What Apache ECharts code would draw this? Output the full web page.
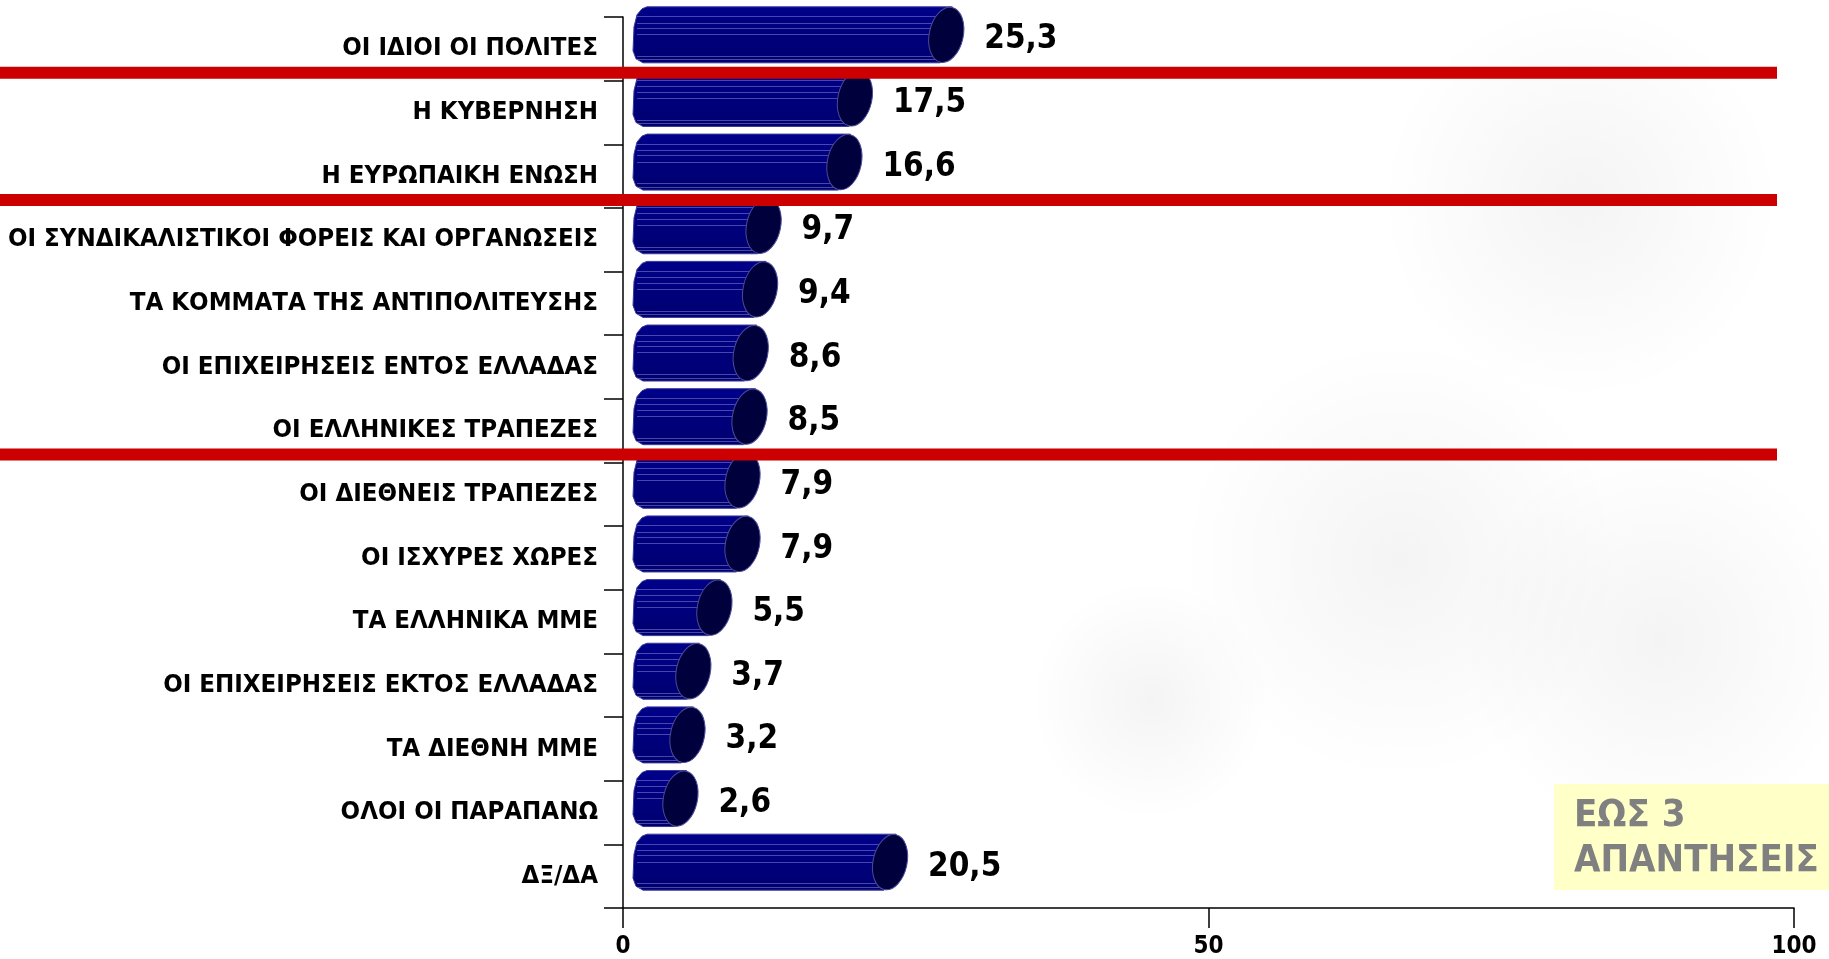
<!DOCTYPE html>
<html>
<head>
<meta charset="utf-8">
<script src="https://cdn.jsdelivr.net/npm/echarts@6/dist/echarts.min.js"></script>
<style>
html,body{margin:0;padding:0;background:#fff}
#main{width:1829px;height:959px}
</style>
</head>
<body>
<div id="main"></div>
<script>
// data
var categories = [
	'ΟΙ ΙΔΙΟΙ ΟΙ ΠΟΛΙΤΕΣ',
	'Η ΚΥΒΕΡΝΗΣΗ',
	'Η ΕΥΡΩΠΑΙΚΗ ΕΝΩΣΗ',
	'ΟΙ ΣΥΝΔΙΚΑΛΙΣΤΙΚΟΙ ΦΟΡΕΙΣ ΚΑΙ ΟΡΓΑΝΩΣΕΙΣ',
	'ΤΑ ΚΟΜΜΑΤΑ ΤΗΣ ΑΝΤΙΠΟΛΙΤΕΥΣΗΣ',
	'ΟΙ ΕΠΙΧΕΙΡΗΣΕΙΣ ΕΝΤΟΣ ΕΛΛΑΔΑΣ',
	'ΟΙ ΕΛΛΗΝΙΚΕΣ ΤΡΑΠΕΖΕΣ',
	'ΟΙ ΔΙΕΘΝΕΙΣ ΤΡΑΠΕΖΕΣ',
	'ΟΙ ΙΣΧΥΡΕΣ ΧΩΡΕΣ',
	'ΤΑ ΕΛΛΗΝΙΚΑ ΜΜΕ',
	'ΟΙ ΕΠΙΧΕΙΡΗΣΕΙΣ ΕΚΤΟΣ ΕΛΛΑΔΑΣ',
	'ΤΑ ΔΙΕΘΝΗ ΜΜΕ',
	'ΟΛΟΙ ΟΙ ΠΑΡΑΠΑΝΩ',
	'ΔΞ/ΔΑ'
];
var values = [25.3, 17.5, 16.6, 9.7, 9.4, 8.6, 8.5, 7.9, 7.9, 5.5, 3.7, 3.2, 2.6, 20.5];
// red separator lines go after these category indexes
var groupEnds = [0, 2, 6];
var noteLines = ['ΕΩΣ 3', 'ΑΠΑΝΤΗΣΕΙΣ'];

var FONT = '"DejaVu Sans Condensed", "DejaVu Sans", sans-serif';

var myChart = echarts.init(document.getElementById('main'));

// horizontal cylinder, excel style
function renderCylinder(params, api) {
	var idx = api.value(0);
	var v = api.value(1);
	var base = api.coord([0, idx]);
	var end = api.coord([v, idx]);
	var band = api.size([0, 1])[1];
	var ry = band * 0.44;
	var yc = end[1] - 14;
	var top = yc - ry, bot = yc + ry;
	var x0 = base[0] + 10;
	var cx = end[0] + 27;
	var rx = 17;
	var children = [];

	children.push({
		type: 'polygon',
		shape: {points: [
			[x0 + 14, top], [cx + 6, top], [cx - 6, bot], [x0 + 10, bot],
			[x0 + 3, bot - 4], [x0, bot - 12], [x0 + 1, top + 20],
			[x0 + 4, top + 8], [x0 + 9, top + 2]
		]},
		style: {
			fill: new echarts.graphic.LinearGradient(0, 0, 0, 1, [
				{offset: 0, color: '#00008a'},
				{offset: 1, color: '#000070'}
			]),
			stroke: '#3a3a9a',
			lineWidth: 1
		}
	});

	var stripes = [0.17, 0.28, 0.38, 0.49, 0.88, 0.94];
	for (var i = 0; i < stripes.length; i++) {
		var sy = Math.round(top + (bot - top) * stripes[i]) + 0.5;
		children.push({
			type: 'line',
			shape: {x1: x0 + 4, y1: sy, x2: cx, y2: sy},
			style: {stroke: 'rgba(130,130,210,0.55)', lineWidth: 1}
		});
	}

	children.push({
		type: 'ellipse',
		shape: {cx: cx, cy: yc, rx: rx, ry: ry},
		originX: cx,
		originY: yc,
		rotation: -0.21,
		style: {fill: '#00003c', stroke: '#4a4a98', lineWidth: 1}
	});

	children.push({
		type: 'text',
		style: {
			text: v.toFixed(1).replace('.', ','),
			x: end[0] + 65,
			y: yc + 5,
			verticalAlign: 'middle',
			fill: '#000',
			font: 'bold 33px ' + FONT
		}
	});

	return {type: 'group', children: children};
}

// red group separators
function renderSeparator(params, api) {
	var idx = api.value(1);
	var p = api.coord([0, idx]);
	var right = api.coord([100, idx])[0] - 17;
	var band = api.size([0, 1])[1];
	var yb = p[1] + band / 2;
	return {
		type: 'rect',
		shape: {x: 0, y: yb - 14, width: right, height: 12},
		style: {fill: '#cc0000'}
	};
}

// faint background figure
var blobs = [
	[1580, 200, 200, 330],
	[1660, 640, 200, 200],
	[1150, 700, 120, 300],
	[1400, 560, 220, 260]
];

option = {
	backgroundColor: '#fff',
	animation: false,
	grid: {left: 623, right: 35, top: 17, bottom: 49},
	xAxis: {
		type: 'value',
		min: 0,
		max: 100,
		interval: 50,
		axisLine: {show: true, lineStyle: {color: '#000', width: 1.5}},
		axisTick: {show: true, length: 20, lineStyle: {color: '#000', width: 1.5}},
		splitLine: {show: false},
		axisLabel: {color: '#000', fontWeight: 'bold', fontSize: 24, fontFamily: FONT, margin: 27}
	},
	yAxis: {
		type: 'category',
		inverse: true,
		data: categories,
		axisLine: {show: true, lineStyle: {color: '#000', width: 1.5}},
		axisTick: {show: true, length: 19, lineStyle: {color: '#000', width: 1.5}},
		axisLabel: {color: '#000', fontWeight: 'bold', fontSize: 25.6, fontFamily: FONT, margin: 25, padding: [7, 0, 0, 0]}
	},
	graphic: blobs.map(function (b) {
		return {
			type: 'ellipse',
			z: -1,
			shape: {cx: b[0], cy: b[1], rx: b[2], ry: b[3]},
			style: {
				fill: new echarts.graphic.RadialGradient(0.5, 0.5, 0.5, [
					{offset: 0, color: 'rgba(0,0,0,0.045)'},
					{offset: 1, color: 'rgba(0,0,0,0)'}
				])
			}
		};
	}).concat([
		{
			type: 'rect',
			z: 10,
			shape: {x: 1554, y: 784, width: 275, height: 106},
			style: {fill: '#ffffc8'}
		},
		{
			type: 'text',
			z: 11,
			x: 1574,
			y: 794,
			style: {
				text: noteLines.join('\n'),
				fill: '#808080',
				font: 'bold 38px ' + FONT,
				lineHeight: 45
			}
		}
	]),
	series: [
		{
			type: 'custom',
			renderItem: renderCylinder,
			clip: false,
			encode: {x: 1, y: 0},
			data: values.map(function (v, i) { return [i, v]; }),
			z: 3
		},
		{
			type: 'custom',
			renderItem: renderSeparator,
			clip: false,
			encode: {x: 0, y: 1},
			data: groupEnds.map(function (g) { return [0, g]; }),
			z: 5
		}
	]
};

myChart.setOption(option);
</script>
</body>
</html>
